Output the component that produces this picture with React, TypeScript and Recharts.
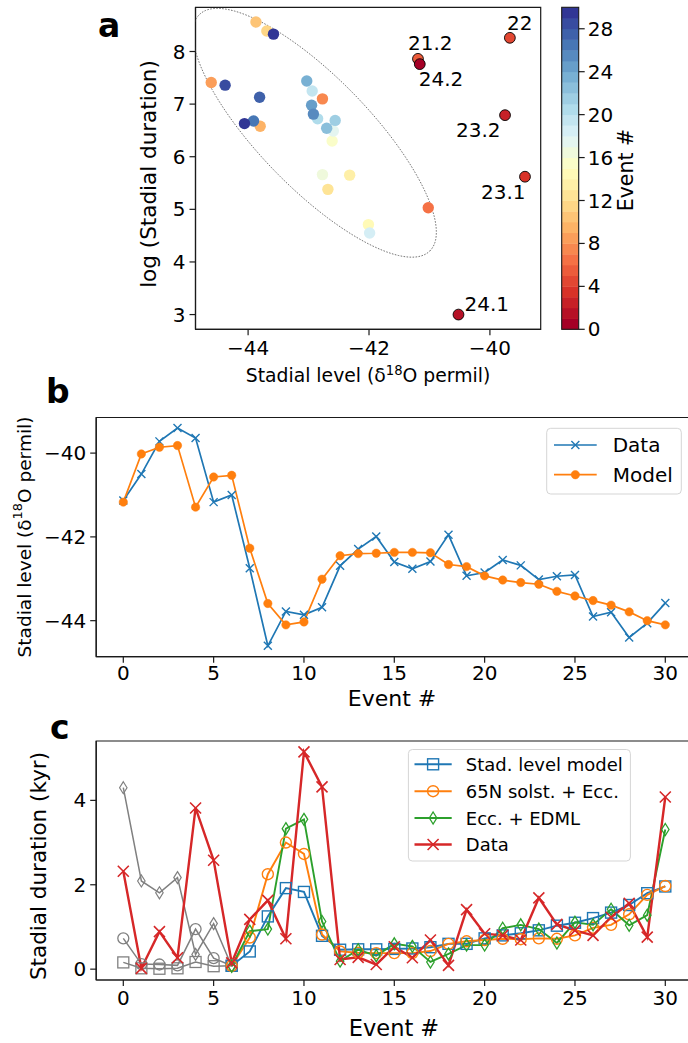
import React from 'react';
import { ScatterChart, Scatter, LineChart, Line, XAxis, YAxis, ReferenceArea } from 'recharts';

const FONT = "'DejaVu Sans', Verdana, sans-serif";

// ---------------- data ----------------
const EVENTS = [0, 1, 2, 3, 4, 5, 6, 7, 8, 9, 10, 11, 12, 13, 14, 15, 16, 17, 18, 19, 20, 21, 22, 23, 24, 25, 26, 27, 28, 29, 30];
const GS_LABELS = ['24.2', '24.1', '23.2', '23.1', '22', '21.2'];

// panel a: stadial level (x) and log stadial duration (y) per event
const A_LEVEL = [-41.16, -40.52, -39.75, -39.42, -39.67, -41.19, -41.02, -42.77, -44.61, -43.80, -43.87, -43.69, -42.68, -42.32, -42.01, -42.61, -42.77, -42.59, -41.99, -42.94, -42.85, -42.56, -42.70, -43.03, -42.95, -42.92, -43.91, -43.81, -44.38, -44.06, -43.58];
const A_LOGDUR = [7.76, 3.0, 6.79, 5.62, 8.26, 7.86, 5.03, 7.10, 7.41, 6.58, 8.56, 8.39, 5.38, 5.65, 4.71, 6.30, 5.66, 6.49, 4.55, 7.25, 6.72, 6.69, 6.54, 7.44, 6.98, 6.81, 6.68, 7.13, 7.36, 6.63, 8.33];

// panel b: stadial level
const B_DATA = [-41.13, -40.50, -39.72, -39.40, -39.64, -41.17, -41.00, -42.75, -44.60, -43.78, -43.86, -43.68, -42.69, -42.29, -41.99, -42.60, -42.76, -42.59, -41.95, -42.93, -42.85, -42.55, -42.68, -43.02, -42.94, -42.91, -43.90, -43.80, -44.40, -44.06, -43.58];
const B_MODEL = [-41.17, -40.02, -39.86, -39.82, -41.29, -40.57, -40.53, -42.27, -43.59, -44.10, -44.03, -43.01, -42.45, -42.40, -42.39, -42.37, -42.37, -42.38, -42.66, -42.71, -42.93, -43.03, -43.09, -43.13, -43.30, -43.41, -43.52, -43.63, -43.79, -44.00, -44.10];

// panel c: stadial duration (kyr)
const C_STAD = [0.16, 0.02, 0.01, 0.02, 0.17, 0.07, 0.08, 0.42, 1.25, 1.92, 1.83, 0.79, 0.46, 0.47, 0.47, 0.48, 0.49, 0.52, 0.60, 0.60, 0.73, 0.80, 0.85, 0.92, 1.03, 1.10, 1.21, 1.34, 1.52, 1.80, 1.96];
const C_SOLST = [0.73, 0.12, 0.11, 0.09, 0.95, 0.26, 0.08, 0.75, 2.25, 3.00, 2.73, 0.82, 0.42, 0.39, 0.38, 0.38, 0.38, 0.43, 0.60, 0.66, 0.69, 0.72, 0.71, 0.73, 0.72, 0.80, 0.98, 1.05, 1.30, 1.76, 1.97];
const C_EDML = [4.30, 2.09, 1.81, 2.17, 0.35, 1.08, 0.07, 0.90, 0.95, 3.33, 3.55, 1.13, 0.19, 0.46, 0.32, 0.60, 0.54, 0.17, 0.36, 0.57, 0.57, 0.97, 1.05, 0.95, 0.62, 1.11, 1.05, 1.42, 1.04, 1.28, 3.31];
const C_DATA = [2.32, 0.02, 0.89, 0.27, 3.82, 2.58, 0.15, 1.18, 1.63, 0.72, 5.15, 4.32, 0.23, 0.28, 0.11, 0.53, 0.27, 0.69, 0.09, 1.41, 0.84, 0.80, 0.69, 1.69, 1.06, 0.92, 0.80, 1.23, 1.56, 0.76, 4.08];
const GRAY_UNTIL = 6; // model events up to this index are drawn in gray

// ticks
const EVENT_TICKS = [0, 5, 10, 15, 20, 25, 30];
const A_X_TICKS = [-44, -42, -40];
const A_Y_TICKS = [3, 4, 5, 6, 7, 8];
const B_Y_TICKS = [-44, -42, -40];
const C_Y_TICKS = [0, 2, 4];
const CB_TICKS = [0, 4, 8, 12, 16, 20, 24, 28];
const CB_MAX = 30;

// axis domains
const A_XDOM: [number, number] = [-44.87, -39.16];
const A_YDOM: [number, number] = [2.72, 8.84];
const EV_DOM: [number, number] = [-1.5, 31.5];
const B_YDOM: [number, number] = [-44.86, -39.15];
const C_YDOM: [number, number] = [-0.257, 5.407];

// confidence ellipse (centre and semi-axis vectors, data units)
const ELLIPSE = { cx: -42.9, cy: 6.455, ax: 1.906, ay: -2.247, bx: 0.651, by: 0.736 };

// ---------------- styles ----------------
const C_BLUE = '#1f77b4';
const C_ORANGE = '#ff7f0e';
const C_GREEN = '#2ca02c';
const C_RED = '#d62728';
const C_GRAY = '#808080';
const AXIS = '#1a1a1a';
const TICK_FS = 20;

const LABEL_OFFSETS = [
  { dx: -1, dy: 22.2 },
  { dx: 6, dy: -3.3 },
  { dx: -49, dy: 21.7 },
  { dx: -44, dy: 22 },
  { dx: -2.8, dy: -7.6 },
  { dx: -10, dy: -9 },
];

const RDYLBU = [
  [165, 0, 38], [215, 48, 39], [244, 109, 67], [253, 174, 97], [254, 224, 144],
  [255, 255, 191], [224, 243, 248], [171, 217, 233], [116, 173, 209], [69, 117, 180], [49, 54, 149],
];
function rdylbu(t: number) {
  const v = Math.max(0, Math.min(1, t)) * 10;
  const i = Math.min(9, Math.floor(v));
  const f = v - i;
  const a = RDYLBU[i];
  const b = RDYLBU[i + 1];
  const c = a.map((x, k) => Math.round(x + (b[k] - x) * f));
  return `rgb(${c[0]},${c[1]},${c[2]})`;
}
const binColor = (k: number) => rdylbu(Math.min(k, CB_MAX - 1) / (CB_MAX - 1));

const fmt = (v: number) => (v < 0 ? '\u2212' + Math.abs(v) : String(v));
const tickStyle = { fontSize: TICK_FS, fill: '#000', fontFamily: FONT };
const axisLine = { stroke: AXIS, strokeWidth: 1.2 };

// ---------------- derived tables ----------------
const aRows = EVENTS.map((e, i) => ({ event: e, level: A_LEVEL[i], logdur: A_LOGDUR[i] }));
const aPlain = aRows.filter((r) => r.event >= GS_LABELS.length);
const aLabeled = aRows.filter((r) => r.event < GS_LABELS.length).reverse();
const ellipseRows = Array.from({ length: 145 }, (_, i) => {
  const t = (2 * Math.PI * i) / 144;
  return {
    level: ELLIPSE.cx + Math.cos(t) * ELLIPSE.ax + Math.sin(t) * ELLIPSE.bx,
    logdur: ELLIPSE.cy + Math.cos(t) * ELLIPSE.ay + Math.sin(t) * ELLIPSE.by,
  };
});

const bRows = EVENTS.map((e, i) => ({ event: e, data: B_DATA[i], model: B_MODEL[i] }));

const cRows = EVENTS.map((e, i) => ({
  event: e,
  stadG: e <= GRAY_UNTIL ? C_STAD[i] : null,
  solstG: e <= GRAY_UNTIL ? C_SOLST[i] : null,
  edmlG: e <= GRAY_UNTIL ? C_EDML[i] : null,
  stad: e >= GRAY_UNTIL ? C_STAD[i] : null,
  solst: e >= GRAY_UNTIL ? C_SOLST[i] : null,
  edml: e >= GRAY_UNTIL ? C_EDML[i] : null,
  data: C_DATA[i],
}));

// ---------------- markers ----------------
type MK = 'x' | 'dot' | 'sq' | 'circ' | 'dia';
function Marker({ kind, cx, cy, color, s, sw }: { kind: MK; cx: number; cy: number; color: string; s: number; sw: number }) {
  if (kind === 'x')
    return <path d={`M${cx - s},${cy - s}L${cx + s},${cy + s}M${cx - s},${cy + s}L${cx + s},${cy - s}`} stroke={color} strokeWidth={sw} fill="none" />;
  if (kind === 'dot') return <circle cx={cx} cy={cy} r={s} fill={color} stroke={color} strokeWidth={0.5} />;
  if (kind === 'sq') return <rect x={cx - s} y={cy - s} width={2 * s} height={2 * s} fill="none" stroke={color} strokeWidth={sw} />;
  if (kind === 'circ') return <circle cx={cx} cy={cy} r={s} fill="none" stroke={color} strokeWidth={sw} />;
  return <path d={`M${cx},${cy - s}L${cx + s * 0.62},${cy}L${cx},${cy + s}L${cx - s * 0.62},${cy}Z`} fill="none" stroke={color} strokeWidth={sw} />;
}
const dotFn = (kind: MK, color: string, s: number, sw: number) => (p: any) => {
  const key = `m${p.index}`;
  if (p.cy == null || p.cx == null || Number.isNaN(p.cy) || p.value == null) return <g key={key} />;
  return <g key={key}><Marker kind={kind} cx={p.cx} cy={p.cy} color={color} s={s} sw={sw} /></g>;
};

// ---------------- panel a ----------------
const pointShape = (props: any) => {
  const { cx, cy, payload } = props;
  const ev = payload.event as number;
  const labeled = ev < GS_LABELS.length;
  const off = labeled ? LABEL_OFFSETS[ev] : null;
  return (
    <g>
      <circle cx={cx} cy={cy} r={labeled ? 5.4 : 5.7} fill={binColor(ev)} stroke={labeled ? '#000' : 'none'} strokeWidth={0.9} />
      {labeled && off && (
        <text x={cx + off.dx} y={cy + off.dy} fontSize={20} fontFamily={FONT} fill="#000">
          {GS_LABELS[ev]}
        </text>
      )}
    </g>
  );
};

function PanelA() {
  return (
    <ScatterChart width={560} height={380} margin={{ top: 7.3, right: 19.3, bottom: 10.7, left: 0 }}>
      <XAxis type="number" dataKey="level" domain={A_XDOM} ticks={A_X_TICKS} allowDataOverflow
        height={40} tickSize={6} tickMargin={5} tick={tickStyle} tickFormatter={fmt}
        axisLine={axisLine} tickLine={axisLine} />
      <YAxis type="number" dataKey="logdur" domain={A_YDOM} ticks={A_Y_TICKS} allowDataOverflow
        width={195.5} tickSize={6} tickMargin={4} tick={tickStyle}
        axisLine={axisLine} tickLine={axisLine} />
      <Scatter data={ellipseRows} line={{ stroke: '#666', strokeWidth: 0.9, strokeDasharray: '1.6 1.4' }} lineType="joint"
        shape={() => <g />} isAnimationActive={false} />
      <Scatter data={aPlain} shape={pointShape} isAnimationActive={false} />
      <Scatter data={aLabeled} shape={pointShape} isAnimationActive={false} />
      <ReferenceArea x1={A_XDOM[0]} x2={A_XDOM[1]} y1={A_YDOM[0]} y2={A_YDOM[1]} fill="none" fillOpacity={0}
        stroke={AXIS} strokeWidth={1.2} ifOverflow="visible" />
    </ScatterChart>
  );
}

// ---------------- panel b ----------------
function PanelB() {
  return (
    <LineChart width={700} height={300} data={bRows} margin={{ top: 17.5, right: 7.6, bottom: 3.3, left: 0 }}>
      <XAxis type="number" dataKey="event" domain={EV_DOM} ticks={EVENT_TICKS} allowDataOverflow
        height={40} tickSize={6} tickMargin={3} tick={tickStyle}
        axisLine={axisLine} tickLine={axisLine} />
      <YAxis type="number" domain={B_YDOM} ticks={B_Y_TICKS} allowDataOverflow
        width={96.2} tickSize={6} tickMargin={4} tick={tickStyle} tickFormatter={fmt}
        axisLine={axisLine} tickLine={axisLine} />
      <Line dataKey="data" stroke={C_BLUE} strokeWidth={1.7} dot={dotFn('x', C_BLUE, 4, 1.4)} isAnimationActive={false} />
      <Line dataKey="model" stroke={C_ORANGE} strokeWidth={1.7} dot={dotFn('dot', C_ORANGE, 4.2, 1)} isAnimationActive={false} />
      <ReferenceArea x1={EV_DOM[0]} x2={EV_DOM[1]} y1={B_YDOM[0]} y2={B_YDOM[1]} fill="none" fillOpacity={0}
        stroke={AXIS} strokeWidth={1.2} ifOverflow="visible" />
    </LineChart>
  );
}

// ---------------- panel c ----------------
function PanelC() {
  return (
    <LineChart width={700} height={323} data={cRows} margin={{ top: 21, right: 7.6, bottom: 23, left: 0 }}>
      <XAxis type="number" dataKey="event" domain={EV_DOM} ticks={EVENT_TICKS} allowDataOverflow
        height={40} tickSize={6} tickMargin={5} tick={tickStyle}
        axisLine={axisLine} tickLine={axisLine} />
      <YAxis type="number" domain={C_YDOM} ticks={C_Y_TICKS} allowDataOverflow
        width={96.2} tickSize={6} tickMargin={4} tick={tickStyle}
        axisLine={axisLine} tickLine={axisLine} />
      <Line dataKey="stadG" stroke={C_GRAY} strokeWidth={1.5} dot={dotFn('sq', C_GRAY, 5.5, 1.3)} isAnimationActive={false} />
      <Line dataKey="solstG" stroke={C_GRAY} strokeWidth={1.5} dot={dotFn('circ', C_GRAY, 5.5, 1.3)} isAnimationActive={false} />
      <Line dataKey="edmlG" stroke={C_GRAY} strokeWidth={1.5} dot={dotFn('dia', C_GRAY, 6, 1.2)} isAnimationActive={false} />
      <Line dataKey="stad" stroke={C_BLUE} strokeWidth={1.9} dot={dotFn('sq', C_BLUE, 5.5, 1.4)} isAnimationActive={false} />
      <Line dataKey="solst" stroke={C_ORANGE} strokeWidth={1.9} dot={dotFn('circ', C_ORANGE, 5.5, 1.4)} isAnimationActive={false} />
      <Line dataKey="edml" stroke={C_GREEN} strokeWidth={1.9} dot={dotFn('dia', C_GREEN, 6, 1.3)} isAnimationActive={false} />
      <Line dataKey="data" stroke={C_RED} strokeWidth={2.4} dot={dotFn('x', C_RED, 5.5, 1.6)} isAnimationActive={false} />
      <ReferenceArea x1={EV_DOM[0]} x2={EV_DOM[1]} y1={C_YDOM[0]} y2={C_YDOM[1]} fill="none" fillOpacity={0}
        stroke={AXIS} strokeWidth={1.2} ifOverflow="visible" />
    </LineChart>
  );
}

// ---------------- overlay (titles, colourbar, legends) ----------------
const CB = { x: 561.7, w: 17, top: 7.3, bottom: 329.3 };
const cbY = (v: number) => CB.bottom - (v / CB_MAX) * (CB.bottom - CB.top);

function DeltaLabel({ x, y, rotate, fs }: { x: number; y: number; rotate?: boolean; fs: number }) {
  return (
    <text x={x} y={y} fontSize={fs} fontFamily={FONT} textAnchor="middle" dominantBaseline={rotate ? 'central' : undefined}
      transform={rotate ? `rotate(-90 ${x} ${y})` : undefined}>
      Stadial level (δ<tspan fontSize={fs * 0.7} dy={-fs * 0.38}>18</tspan><tspan dy={fs * 0.38}>O permil)</tspan>
    </text>
  );
}

const LEG_B = [
  { name: 'Data', kind: 'x' as MK, color: C_BLUE, s: 4, sw: 1.4, lw: 1.7 },
  { name: 'Model', kind: 'dot' as MK, color: C_ORANGE, s: 4.2, sw: 1, lw: 1.7 },
];
const LEG_C = [
  { name: 'Stad. level model', kind: 'sq' as MK, color: C_BLUE, s: 5.5, sw: 1.4, lw: 1.9 },
  { name: '65N solst. + Ecc.', kind: 'circ' as MK, color: C_ORANGE, s: 5.5, sw: 1.4, lw: 1.9 },
  { name: 'Ecc. + EDML', kind: 'dia' as MK, color: C_GREEN, s: 6, sw: 1.3, lw: 1.9 },
  { name: 'Data', kind: 'x' as MK, color: C_RED, s: 5.5, sw: 1.6, lw: 2.4 },
];

function LegendBox({ x, y, w, h, items, rowY, lx0, lx1, tx, fs }: any) {
  return (
    <g>
      <rect x={x} y={y} width={w} height={h} rx={4} fill="rgba(255,255,255,0.85)" stroke="#d5d5d5" strokeWidth={1} />
      {items.map((it: any, i: number) => {
        const cy = rowY[i];
        const mx = (lx0 + lx1) / 2;
        return (
          <g key={it.name}>
            <line x1={lx0} x2={lx1} y1={cy} y2={cy} stroke={it.color} strokeWidth={it.lw} />
            <Marker kind={it.kind} cx={mx} cy={cy} color={it.color} s={it.s} sw={it.sw} />
            <text x={tx} y={cy} fontSize={fs} fontFamily={FONT} dominantBaseline="central">{it.name}</text>
          </g>
        );
      })}
    </g>
  );
}

function Overlay() {
  const bins = Array.from({ length: CB_MAX }, (_, i) => i);
  return (
    <svg width={688} height={1043} style={{ position: 'absolute', left: 0, top: 0, pointerEvents: 'none' }}>
      {/* panel letters */}
      <text x={98} y={37} fontSize={33} fontWeight="bold" fontFamily={FONT}>a</text>
      <text x={46} y={403} fontSize={33} fontWeight="bold" fontFamily={FONT}>b</text>
      <text x={50} y={738.5} fontSize={33} fontWeight="bold" fontFamily={FONT}>c</text>

      {/* axis titles */}
      <DeltaLabel x={368} y={382} fs={18.8} />
      <text x={148} y={174} fontSize={21.5} fontFamily={FONT} textAnchor="middle" dominantBaseline="central"
        transform="rotate(-90 148 174)">log (Stadial duration)</text>
      <DeltaLabel x={24} y={537} rotate fs={18.5} />
      <text x={392} y={706} fontSize={22} fontFamily={FONT} textAnchor="middle">Event #</text>
      <text x={38} y={866} fontSize={21.5} fontFamily={FONT} textAnchor="middle" dominantBaseline="central"
        transform="rotate(-90 38 866)">Stadial duration (kyr)</text>
      <text x={394} y={1036} fontSize={22.5} fontFamily={FONT} textAnchor="middle">Event #</text>

      {/* colourbar */}
      {bins.map((i) => (
        <rect key={i} x={CB.x} y={cbY(i + 1)} width={CB.w} height={cbY(i) - cbY(i + 1) + 0.4} fill={binColor(i)} />
      ))}
      <rect x={CB.x} y={CB.top} width={CB.w} height={CB.bottom - CB.top} fill="none" stroke={AXIS} strokeWidth={1.1} />
      {CB_TICKS.map((t) => (
        <g key={t}>
          <line x1={CB.x + CB.w} x2={CB.x + CB.w + 6} y1={cbY(t)} y2={cbY(t)} stroke={AXIS} strokeWidth={1.2} />
          <text x={CB.x + CB.w + 9} y={cbY(t)} fontSize={TICK_FS} fontFamily={FONT} dominantBaseline="central">{t}</text>
        </g>
      ))}
      <text x={625.5} y={170} fontSize={20.5} fontFamily={FONT} textAnchor="middle" dominantBaseline="central"
        transform="rotate(-90 625.5 170)">Event #</text>

      {/* legends */}
      <LegendBox x={546.7} y={428.3} w={134.6} h={65.7} items={LEG_B} rowY={[445, 474.7]} lx0={554} lx1={596.7} tx={612.7} fs={20} />
      <LegendBox x={408.4} y={749.5} w={222} h={111.5} items={LEG_C} rowY={[764.3, 791.2, 818, 844.5]} lx0={414.5} lx1={451.7} tx={465.8} fs={18} />
    </svg>
  );
}

export default function App() {
  return (
    <div style={{ position: 'absolute', left: 0, top: 0, width: 688, height: 1043, overflow: 'hidden', background: '#fff', fontFamily: FONT }}>
      <div style={{ position: 'absolute', left: 0, top: 0 }}><PanelA /></div>
      <div style={{ position: 'absolute', left: 0, top: 400 }}><PanelB /></div>
      <div style={{ position: 'absolute', left: 0, top: 720 }}><PanelC /></div>
      <Overlay />
    </div>
  );
}
